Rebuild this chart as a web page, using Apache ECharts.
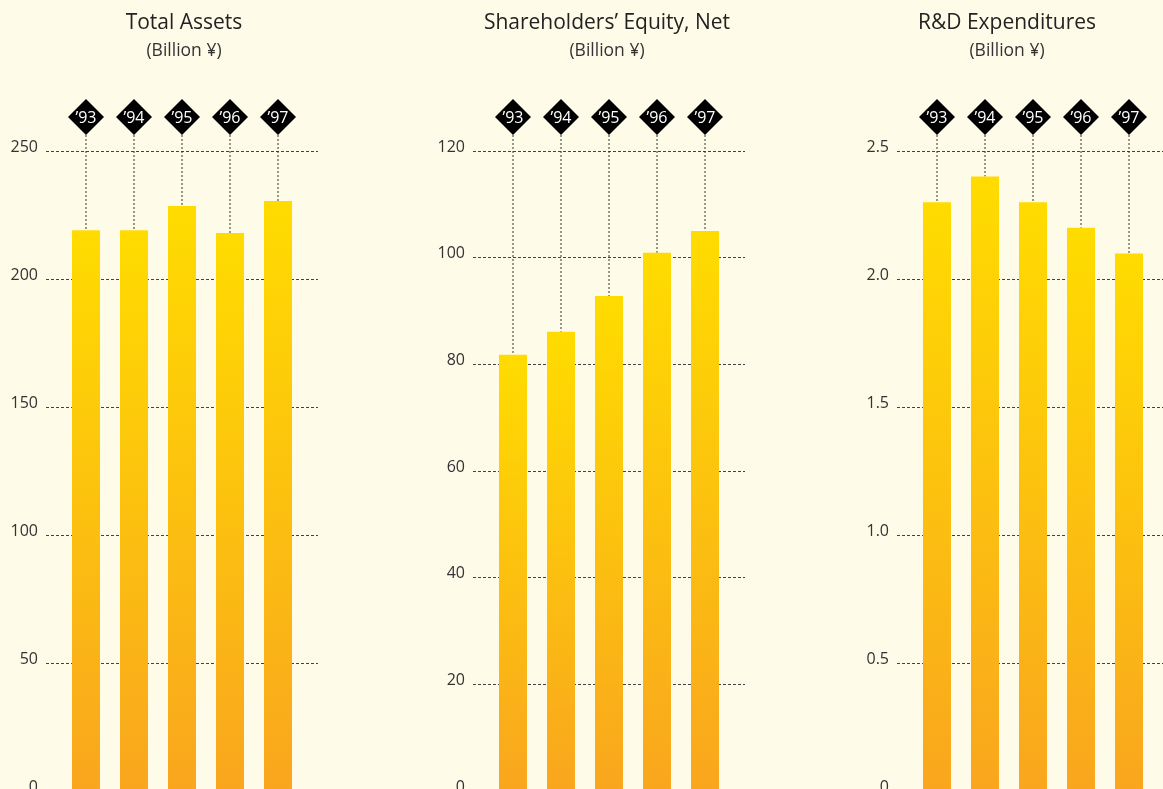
<!DOCTYPE html>
<html>
<head>
<meta charset="utf-8">
<script src="https://cdn.jsdelivr.net/npm/echarts@6/dist/echarts.min.js"></script>
<style>
  html, body { margin: 0; padding: 0; background: #fffbe9; }
  #main { width: 1163px; height: 789px; }
</style>
</head>
<body>
<div id="main"></div>
<script>
var years = ['\u201993', '\u201994', '\u201995', '\u201996', '\u201997'];
var totalAssets = [219, 219, 228.5, 218, 230.5];
var equity = [81.8, 86.1, 92.8, 100.9, 105];
var rndSpend = [2.30, 2.40, 2.30, 2.20, 2.10];

var titles = ['Total Assets', 'Shareholders\u2019 Equity, Net', 'R&D Expenditures'];
var unitText = '(Billion \u00a5)';
var axisMax = [250, 120, 2.5];
var axisStep = [50, 20, 0.5];

var fontFam = '"Open Sans", sans-serif';
var panelLeft = [46, 473, 897];
var titleCenter = [184, 607, 1007];

var chartDom = document.getElementById('main');
var myChart = echarts.init(chartDom);

var allData = [totalAssets, equity, rndSpend];

function barColor() {
  return new echarts.graphic.LinearGradient(0, 0, 0, 1, [
    { offset: 0, color: '#ffdc00' },
    { offset: 1, color: '#f9a61e' }
  ]);
}

// diamond year tag + dotted drop line down to the bar top
function makeTags(k) {
  return function (params, api) {
    var i = api.value(0);
    var v = api.value(1);
    var barTop = api.coord([i, v]);
    var axisTop = api.coord([i, axisMax[k]]);
    var x = barTop[0];
    var cy = axisTop[1] - 34;
    var h = 18;
    return {
      type: 'group',
      children: [
        { type: 'line', shape: { x1: x, y1: cy + h, x2: x, y2: barTop[1] },
          style: { stroke: '#333', lineWidth: 1, lineDash: [2, 2] } },
        { type: 'polygon', shape: { points: [[x, cy - h], [x + h, cy], [x, cy + h], [x - h, cy]] },
          style: { fill: '#000' } },
        { type: 'text', style: { text: years[i], x: x, y: cy + 1, align: 'center', verticalAlign: 'middle',
          fill: '#fff', font: '16px ' + fontFam } }
      ]
    };
  };
}

var grids = [], xAxes = [], yAxes = [], series = [], titleList = [];
for (var k = 0; k < 3; k++) {
  grids.push({ left: panelLeft[k], top: 151, width: 272, height: 640, outerBoundsMode: 'none', containLabel: false });
  xAxes.push({ type: 'value', gridIndex: k, min: -0.833, max: 4.833, show: false });
  yAxes.push({
    type: 'value', gridIndex: k, min: 0, max: axisMax[k], interval: axisStep[k],
    axisLine: { show: false }, axisTick: { show: false },
    axisLabel: {
      margin: 8, color: '#333', fontSize: 16, fontFamily: fontFam,
      verticalAlign: 'bottom', lineHeight: 8,
      formatter: (function (kk) {
        return function (v) { return kk === 2 && v !== 0 ? v.toFixed(1) : String(v); };
      })(k)
    },
    splitLine: { lineStyle: { color: '#444', type: [3, 2], width: 1 } }
  });
  titleList.push({
    text: titles[k], subtext: unitText, left: titleCenter[k], top: 13, textAlign: 'center', itemGap: 8,
    padding: 0,
    textStyle: { fontFamily: fontFam, fontSize: 21, fontWeight: 'normal', color: '#222' },
    subtextStyle: { fontFamily: fontFam, fontSize: 17.5, color: '#333' }
  });
  var pts = allData[k].map(function (v, i) { return [i, v]; });
  series.push({
    type: 'bar', xAxisIndex: k, yAxisIndex: k, barWidth: 28, data: pts,
    itemStyle: { color: barColor() }, silent: true, z: 3
  });
  series.push({
    type: 'custom', xAxisIndex: k, yAxisIndex: k, data: pts, renderItem: makeTags(k),
    silent: true, z: 2
  });
}

var option = {
  backgroundColor: '#fffbe9',
  animation: false,
  title: titleList,
  grid: grids,
  xAxis: xAxes,
  yAxis: yAxes,
  series: series
};

option && myChart.setOption(option);
</script>
</body>
</html>
